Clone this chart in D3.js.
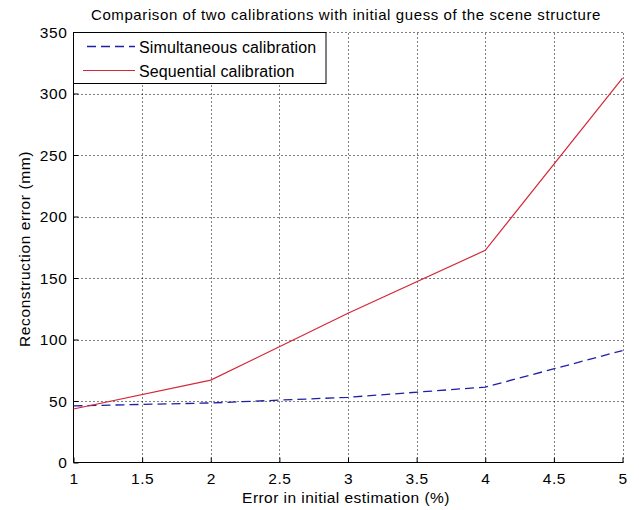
<!DOCTYPE html>
<html>
<head>
<meta charset="utf-8">
<script src="https://cdn.jsdelivr.net/npm/d3@7"></script>
<style>
  html, body { margin: 0; padding: 0; background: #fff; }
  svg { display: block; }
  text { font-family: "Liberation Sans", Arial, Helvetica, sans-serif; fill: #000; }
</style>
</head>
<body>
<svg id="chart" width="639" height="510"></svg>
<script>
// ---- data ----
const xValues = [1, 2, 3, 4, 5];
const simultaneous = [46, 48.4, 53, 61.3, 91];
const sequential = [43.5, 67, 121.3, 172.5, 312.5];
const xTicks = [1, 1.5, 2, 2.5, 3, 3.5, 4, 4.5, 5];
const yTicks = [0, 50, 100, 150, 200, 250, 300, 350];
const seriesNames = ["Simultaneous calibration", "Sequential calibration"];
const titleText = "Comparison of two calibrations with initial guess of the scene structure";
const xLabelText = "Error in initial estimation (%)";
const yLabelText = "Reconstruction error (mm)";

// ---- layout ----
const W = 639, H = 510;
const pL = 73.5, pR = 622.5, pT = 32, pB = 462.5;
const svg = d3.select("#chart");
const x = d3.scaleLinear().domain([1, 5]).range([pL, pR]);
const y = d3.scaleLinear().domain([0, 350]).range([pB, pT]);

svg.append("rect").attr("width", W).attr("height", H).attr("fill", "#fff");

// grid
const grid = svg.append("g");
grid.selectAll(".gx").data(xTicks.filter(d => d !== 1)).enter().append("line")
  .attr("x1", d => Math.round(x(d)) + 0.5).attr("x2", d => Math.round(x(d)) + 0.5)
  .attr("y1", pB).attr("y2", pT)
  .attr("stroke", "#000").attr("stroke-width", 1).attr("stroke-dasharray", "1,3");
grid.selectAll(".gy").data(yTicks.filter(d => d !== 0)).enter().append("line")
  .attr("x1", pL).attr("x2", pR + 1)
  .attr("y1", d => Math.round(y(d)) + 0.5).attr("y2", d => Math.round(y(d)) + 0.5)
  .attr("stroke", "#000").attr("stroke-width", 1).attr("stroke-dasharray", "1,3");

// axes
const xAxis = d3.axisBottom(x).tickValues(xTicks).tickSize(-5).tickPadding(10)
  .tickFormat(d3.format("~g"));
const yAxis = d3.axisLeft(y).tickValues(yTicks).tickSize(-5).tickPadding(6)
  .tickFormat(d3.format("~g"));
const gx = svg.append("g").attr("transform", `translate(0,${pB})`).call(xAxis);
const gy = svg.append("g").attr("transform", `translate(${pL},0)`).call(yAxis);
[gx, gy].forEach(g => {
  g.select(".domain").remove();
  g.selectAll("line").attr("stroke", "#000");
  g.selectAll("text").style("font-family", '"Liberation Sans", Arial, sans-serif')
    .style("font-size", "15.5px").style("letter-spacing", "0.6px").attr("fill", "#000");
});
gy.selectAll("text").attr("dy", "0.35em");
// axis lines
svg.append("line").attr("x1", pL).attr("x2", pR + 0.5).attr("y1", pB).attr("y2", pB)
  .attr("stroke", "#000").attr("stroke-width", 1);
svg.append("line").attr("x1", pL).attr("x2", pL).attr("y1", pB).attr("y2", pT)
  .attr("stroke", "#000").attr("stroke-width", 1);

// series
const line = d3.line().x((d, i) => x(xValues[i])).y(d => y(d));
svg.append("path").datum(simultaneous).attr("d", line)
  .attr("fill", "none").attr("stroke", "#1f1fa8").attr("stroke-width", 1.3)
  .attr("stroke-dasharray", "9,5");
svg.append("path").datum(sequential).attr("d", line)
  .attr("fill", "none").attr("stroke", "#d42838").attr("stroke-width", 1.2);

// legend
const lg = svg.append("g");
lg.append("rect").attr("x", 73.5).attr("y", 32.5).attr("width", 252.5).attr("height", 51)
  .attr("fill", "#fff").attr("stroke", "#000").attr("stroke-width", 1);
lg.append("line").attr("x1", 85).attr("x2", 135).attr("y1", 46.5).attr("y2", 46.5)
  .attr("stroke", "#1f1fa8").attr("stroke-width", 1.3).attr("stroke-dasharray", "9,5")
  .attr("stroke-dashoffset", -2);
lg.append("line").attr("x1", 83).attr("x2", 135).attr("y1", 70.5).attr("y2", 70.5)
  .attr("stroke", "#d42838").attr("stroke-width", 1.2);
lg.append("text").attr("x", 139).attr("y", 52.5).style("font-size", "16px")
  .style("letter-spacing", "0.12px").text(seriesNames[0]);
lg.append("text").attr("x", 139).attr("y", 76.5).style("font-size", "16px")
  .style("letter-spacing", "0.12px").text(seriesNames[1]);

// title & labels
svg.append("text").attr("x", 346).attr("y", 19.5).attr("text-anchor", "middle")
  .style("font-size", "15px").style("letter-spacing", "0.6px").text(titleText);
svg.append("text").attr("x", 346).attr("y", 503).attr("text-anchor", "middle")
  .style("font-size", "15.5px").style("letter-spacing", "0.45px").text(xLabelText);
svg.append("text").attr("transform", "translate(29.5,249) rotate(-90)").attr("text-anchor", "middle")
  .style("font-size", "15.5px").style("letter-spacing", "0.6px").text(yLabelText);
</script>
</body>
</html>
